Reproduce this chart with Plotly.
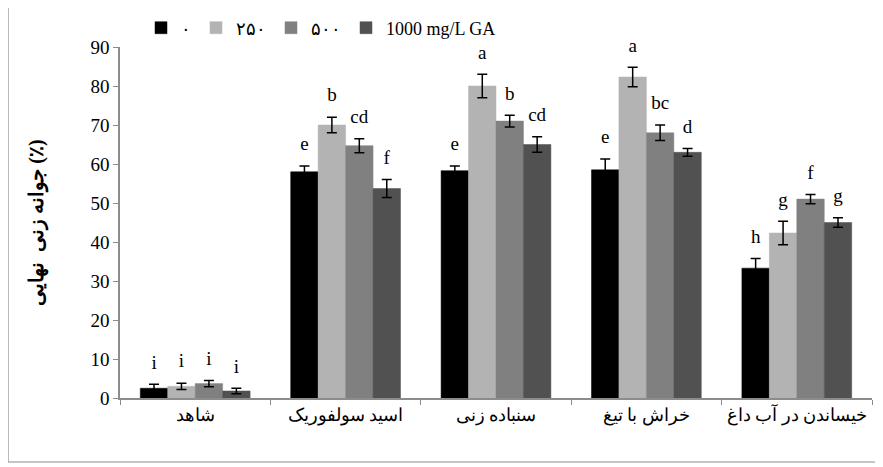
import plotly.graph_objects as go

categories = ["شاهد", "اسید سولفوریک", "سنباده زنی", "خراش با تیغ", "خیساندن در آب داغ"]
series_names = ["۰", "۲۵۰", "۵۰۰", "1000 mg/L GA"]
colors = ["#000000", "#b3b3b3", "#808080", "#515151"]

vals_0 = [2.5, 58.0, 58.3, 58.5, 33.3]
vals_250 = [3.0, 70.0, 80.0, 82.3, 42.3]
vals_500 = [3.7, 64.7, 71.0, 68.0, 51.0]
vals_1000 = [1.8, 53.7, 65.0, 63.0, 45.0]

err_0 = [1.0, 1.5, 1.2, 2.8, 2.5]
err_250 = [0.8, 2.0, 3.0, 2.5, 3.0]
err_500 = [0.8, 1.8, 1.5, 2.0, 1.2]
err_1000 = [0.7, 2.3, 2.0, 1.0, 1.2]

letters_0 = ["i", "e", "e", "e", "h"]
letters_250 = ["i", "b", "a", "a", "g"]
letters_500 = ["i", "cd", "b", "bc", "f"]
letters_1000 = ["i", "f", "cd", "d", "g"]

y_title = "جوانه زنی  نهایی (٪)"
y_ticks = [0, 10, 20, 30, 40, 50, 60, 70, 80, 90]

values = [vals_0, vals_250, vals_500, vals_1000]
errors = [err_0, err_250, err_500, err_1000]
letters = [letters_0, letters_250, letters_500, letters_1000]

FONT = "Liberation Serif"
PAGE_OFF = 8  # default body margin of the html page
W, H = 883 - PAGE_OFF, 467 - PAGE_OFF
ML, MT = 120 - PAGE_OFF, 47 - PAGE_OFF
PW, PH = 752, 351
MR = W - ML - PW
MB = H - MT - PH
BARGAP = 0.27


def px_x(sx):
    return (sx - PAGE_OFF - ML) / PW


def px_y(sy):
    return (MT + PH - (sy - PAGE_OFF)) / PH


fig = go.Figure()
for i in range(4):
    fig.add_trace(go.Bar(
        x=categories, y=values[i], name=series_names[i],
        marker=dict(color=colors[i], line=dict(color=colors[i], width=0.5)),
        error_y=dict(type="data", array=errors[i], color="black", thickness=1.5, width=5),
        offsetgroup=str(i), legendgroup=str(i),
    ))
for i in range(4):
    tops = [v + e for v, e in zip(values[i], errors[i])]
    fig.add_trace(go.Scatter(
        x=categories, y=tops, mode="markers+text", text=letters[i],
        marker=dict(size=16, color="rgba(0,0,0,0)"),
        textposition="top center", textfont=dict(family=FONT, size=19, color="black"),
        offsetgroup=str(i), showlegend=False, hoverinfo="skip", cliponaxis=False,
    ))

fig.add_shape(type="rect", xref="paper", yref="paper",
              x0=px_x(8), x1=px_x(880), y0=px_y(462), y1=px_y(6),
              line=dict(color="#8c8c8c", width=1.2), fillcolor="rgba(0,0,0,0)", layer="below")

fig.update_layout(
    width=W, height=H,
    margin=dict(l=ML, r=MR, t=MT, b=MB, autoexpand=False),
    paper_bgcolor="white", plot_bgcolor="white",
    barmode="group", bargap=BARGAP, bargroupgap=0,
    scattermode="group", scattergap=BARGAP,
    font=dict(family=FONT, color="black"),
    legend=dict(orientation="h", x=px_x(141), xanchor="left", y=px_y(28), yanchor="middle",
                font=dict(family=FONT, size=18), traceorder="normal",
                itemwidth=30, bgcolor="rgba(0,0,0,0)"),
    showlegend=True,
)
fig.update_xaxes(
    showline=True, linecolor="#8c8c8c", linewidth=1.5,
    ticks="outside", tickson="boundaries", ticklen=5, tickcolor="#8c8c8c",
    tickfont=dict(family=FONT, size=18, color="black"),
    showgrid=False, zeroline=False,
)
fig.update_yaxes(
    range=[0, 90], tickvals=y_ticks,
    showline=True, linecolor="#8c8c8c", linewidth=1.5,
    ticks="outside", ticklen=5, tickcolor="#8c8c8c",
    tickfont=dict(family=FONT, size=19, color="black"),
    showgrid=False, zeroline=False,
    title=dict(text="<b>" + y_title + "</b>", font=dict(family=FONT, size=20), standoff=41),
)

fig.write_html("out.html")
